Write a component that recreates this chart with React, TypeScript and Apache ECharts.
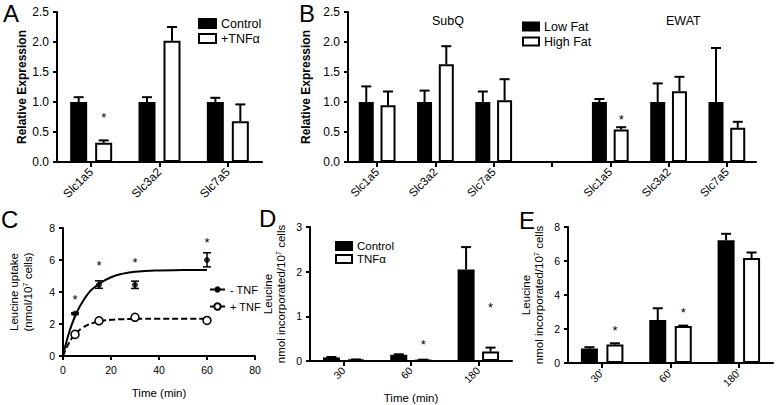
import React, { useEffect, useRef } from 'react';
import * as echarts from 'echarts';

// ---------- Panel A ----------
const catsA = ['Slc1a5', 'Slc3a2', 'Slc7a5'];
const controlA = [1.0, 1.0, 1.0];
const controlAErr = [1.08, 1.08, 1.07];
const tnfA = [0.32, 2.02, 0.68];
const tnfAErr = [0.36, 2.25, 0.96];
const starsA = [[0, 0.79]];

// ---------- Panel B ----------
const catsB = ['Slc1a5', 'Slc3a2', 'Slc7a5', '', 'Slc1a5', 'Slc3a2', 'Slc7a5'];
const lowFatB = [1.0, 1.0, 1.0, null, 1.0, 1.0, 1.0];
const lowFatBErr = [1.26, 1.19, 1.175, null, 1.05, 1.31, 1.9];
const highFatB = [0.945, 1.63, 1.03, null, 0.54, 1.18, 0.57];
const highFatBErr = [1.175, 1.93, 1.38, null, 0.58, 1.42, 0.67];
const starsB = [[4, 0.76]];

// ---------- Panel C ----------
const timeC = [5, 15, 30, 60];
const noTnfC = [2.65, 4.45, 4.45, 6.0];
const noTnfCLo = [2.6, 4.23, 4.22, 5.57];
const noTnfCHi = [2.7, 4.7, 4.68, 6.45];
const tnfC = [1.35, 2.2, 2.42, 2.22];
const tnfCLo = [1.3, 2.1, 2.38, 2.18];
const tnfCHi = [1.4, 2.3, 2.46, 2.26];
const fitTimeC = [0, 2, 4, 6, 8, 10, 12, 15, 20, 25, 30, 40, 50, 60];
const fitNoTnfC = [0, 1.2, 2.1, 2.8, 3.35, 3.8, 4.15, 4.5, 4.92, 5.15, 5.27, 5.35, 5.37, 5.38];
const fitTnfC = [0, 0.68, 1.17, 1.5, 1.75, 1.92, 2.04, 2.16, 2.26, 2.3, 2.32, 2.33, 2.33, 2.33];
const starsC = [[5, 3.75], [15, 5.85], [30, 6.05], [60, 7.3]];

// ---------- Panel D ----------
const catsD = ['30', '60', '180'];
const controlD = [0.08, 0.14, 2.05];
const controlDErr = [0.09, 0.15, 2.55];
const tnfD = [0.03, 0.02, 0.21];
const tnfDErr = [0.035, 0.03, 0.3];
const starsD = [[1, 0.43], [2, 1.27]];

// ---------- Panel E ----------
const catsE = ["30'", "60'", "180'"];
const controlE = [0.85, 2.53, 7.22];
const controlEErr = [0.93, 3.22, 7.6];
const tnfE = [1.09, 2.17, 6.17];
const tnfEErr = [1.16, 2.2, 6.5];
const starsE = [[0, 2.1], [1, 3.12]];

const FONT = '"Liberation Sans", Arial, Helvetica, sans-serif';

const blackBar = { color: '#000', borderColor: '#000', borderWidth: 2 };
const whiteBar = { color: '#fff', borderColor: '#000', borderWidth: 2 };

function baseAxis(gridIndex: number, fontSize: number) {
  return {
    gridIndex,
    axisLine: { show: true, onZero: false, lineStyle: { color: '#000', width: 2 } },
    axisTick: { show: true, length: 4, lineStyle: { color: '#000', width: 2 } },
    axisLabel: { color: '#000', fontFamily: FONT, fontSize, fontWeight: 'normal' },
    splitLine: { show: false },
  };
}

function catAxis(gridIndex: number, data: string[], fontSize: number, extra: any = {}) {
  const b: any = baseAxis(gridIndex, fontSize);
  return {
    ...b,
    type: 'category',
    data,
    axisTick: { ...b.axisTick, alignWithLabel: true, interval: 0, length: 5 },
    axisLabel: { ...b.axisLabel, rotate: 45, interval: 0, margin: 8 },
    ...extra,
  };
}

function valAxis(gridIndex: number, min: number, max: number, interval: number, fontSize: number, extra: any = {}) {
  const b: any = baseAxis(gridIndex, fontSize);
  return { ...b, type: 'value', min, max, interval, ...extra, axisLabel: { ...b.axisLabel, ...(extra.axisLabel || {}) } };
}

function barErr(ai: number, off: number, vals: (number | null)[], tops: (number | null)[]) {
  const data: number[][] = [];
  vals.forEach((v, i) => {
    if (v != null && tops[i] != null) data.push([i, v, tops[i] as number]);
  });
  return {
    type: 'custom',
    xAxisIndex: ai,
    yAxisIndex: ai,
    z: 3,
    data,
    renderItem: (_p: any, api: any) => {
      const b = api.coord([api.value(0), api.value(1)]);
      const t = api.coord([api.value(0), api.value(2)]);
      const x = b[0] + off;
      const st = { stroke: '#000', lineWidth: 2 };
      return {
        type: 'group',
        children: [
          { type: 'line', shape: { x1: x, y1: b[1], x2: x, y2: t[1] }, style: st },
          { type: 'line', shape: { x1: x - 5, y1: t[1], x2: x + 5, y2: t[1] }, style: st },
        ],
      };
    },
  };
}

function stars(ai: number, off: number, pts: number[][]) {
  return {
    type: 'custom',
    xAxisIndex: ai,
    yAxisIndex: ai,
    z: 4,
    data: pts,
    renderItem: (_p: any, api: any) => {
      const p = api.coord([api.value(0), api.value(1)]);
      return {
        type: 'text',
        x: p[0] + off,
        y: p[1] + 3,
        style: { text: '*', fontSize: 13, fontFamily: FONT, fill: '#000', align: 'center', verticalAlign: 'middle' },
      };
    },
  };
}

function pointErr(ai: number, xs: number[], lo: number[], hi: number[]) {
  return {
    type: 'custom',
    xAxisIndex: ai,
    yAxisIndex: ai,
    z: 3,
    data: xs.map((x, i) => [x, lo[i], hi[i]]),
    renderItem: (_p: any, api: any) => {
      const a = api.coord([api.value(0), api.value(1)]);
      const b = api.coord([api.value(0), api.value(2)]);
      const st = { stroke: '#000', lineWidth: 1.5 };
      return {
        type: 'group',
        children: [
          { type: 'line', shape: { x1: a[0], y1: a[1], x2: b[0], y2: b[1] }, style: st },
          { type: 'line', shape: { x1: a[0] - 4, y1: a[1], x2: a[0] + 4, y2: a[1] }, style: st },
          { type: 'line', shape: { x1: b[0] - 4, y1: b[1], x2: b[0] + 4, y2: b[1] }, style: st },
        ],
      };
    },
  };
}

const supRich = {
  sup: { fontSize: 7.5, fontFamily: FONT, fontWeight: 'normal', color: '#000', verticalAlign: 'top', lineHeight: 13 },
};

const nameStyle = (fontSize: number, lineHeight?: number) => ({
  fontFamily: FONT, fontSize, fontWeight: 'normal', color: '#000',
  ...(lineHeight ? { lineHeight, rich: supRich } : {}),
});

export default function App() {
  const ref = useRef<HTMLDivElement>(null);
  useEffect(() => {
    if (!ref.current) return;
    const chart = echarts.init(ref.current, undefined, { renderer: 'svg' });

    const fmt1 = (v: number) => v.toFixed(1);
    const bwA = 17, gA = 0.47, offA = (bwA * (1 + gA)) / 2;
    const bwB = 15, gB = 0.45, offB = (bwB * (1 + gB)) / 2;
    const bwD = 17, gD = 0.44, offD = (bwD * (1 + gD)) / 2;
    const bwE = 17, gE = 0.5, offE = (bwE * (1 + gE)) / 2;

    const letter = (t: string, x: number, y: number) => ({
      type: 'text', left: x, top: y,
      style: { text: t, fontSize: 24, fontFamily: FONT, fill: '#000' },
    });

    const option: any = {
      animation: false,
      backgroundColor: '#fff',
      textStyle: { fontFamily: FONT, fontWeight: 'normal' },
      grid: [
        { left: 57, top: 12, width: 205, height: 150 },
        { left: 348, top: 12, width: 408, height: 150 },
        { left: 63, top: 228, width: 192, height: 128 },
        { left: 310, top: 227, width: 202, height: 134 },
        { left: 568, top: 227, width: 205, height: 136 },
      ],
      xAxis: [
        catAxis(0, catsA, 12),
        catAxis(1, catsB, 11.5),
        valAxis(2, 0, 80, 20, 10.5, {
          name: 'Time (min)', nameLocation: 'middle', nameGap: 31,
          nameTextStyle: nameStyle(11.5),
        }),
        catAxis(3, catsD, 10.5, {
          name: 'Time (min)', nameLocation: 'middle', nameGap: 31,
          nameTextStyle: nameStyle(11.5),
        }),
        catAxis(4, catsE, 10.5),
      ],
      yAxis: [
        valAxis(0, 0, 2.5, 0.5, 12, {
          axisLabel: { formatter: fmt1 },
          name: 'Relative Expression', nameLocation: 'middle', nameRotate: 90, nameGap: 25,
          nameTextStyle: { ...nameStyle(12), fontWeight: 'bold' },
        }),
        valAxis(1, 0, 2.5, 0.5, 12, {
          axisLabel: { formatter: fmt1 },
          name: 'Relative Expression', nameLocation: 'middle', nameRotate: 90, nameGap: 24,
          nameTextStyle: { ...nameStyle(12), fontWeight: 'bold' },
        }),
        valAxis(2, 0, 8, 2, 10.5, {
          name: 'Leucine uptake\n(nmol/10{sup|7} cells)', nameLocation: 'middle', nameRotate: 90, nameGap: 28,
          nameTextStyle: nameStyle(11.5, 14),
        }),
        valAxis(3, 0, 3, 1, 10.5, {
          name: 'Leucine\nnmol incorporated/10{sup|7} cells', nameLocation: 'middle', nameRotate: 90, nameGap: 23,
          nameTextStyle: nameStyle(11.5, 13),
        }),
        valAxis(4, 0, 8, 2, 10.5, {
          name: 'Leucine\nnmol incorporated/10{sup|7} cells', nameLocation: 'middle', nameRotate: 90, nameGap: 23,
          nameTextStyle: nameStyle(11.5, 13),
        }),
      ],
      legend: [
        {
          left: 193, top: 12, orient: 'vertical', icon: 'rect', itemWidth: 17, itemHeight: 9, itemGap: 2,
          textStyle: { fontFamily: FONT, fontSize: 12.5, color: '#000' }, selectedMode: false,
          data: [
            { name: 'Control', itemStyle: blackBar },
            { name: '+TNFα', itemStyle: whiteBar },
          ],
        },
        {
          left: 517, top: 15, orient: 'vertical', icon: 'rect', itemWidth: 16, itemHeight: 8, itemGap: 2,
          textStyle: { fontFamily: FONT, fontSize: 12.5, color: '#000' }, selectedMode: false,
          data: [
            { name: 'Low Fat', itemStyle: blackBar },
            { name: 'High Fat', itemStyle: whiteBar },
          ],
        },
        {
          left: 204, top: 279, orient: 'vertical', itemWidth: 15, itemHeight: 8, itemGap: 6,
          lineStyle: { type: 'solid', width: 2, color: '#000' },
          textStyle: { fontFamily: FONT, fontSize: 11, color: '#000' }, selectedMode: false,
          data: ['- TNF', '+ TNF'],
        },
        {
          left: 330, top: 235, orient: 'vertical', icon: 'rect', itemWidth: 16, itemHeight: 8, itemGap: 1,
          textStyle: { fontFamily: FONT, fontSize: 11.5, color: '#000' }, selectedMode: false,
          data: [
            { name: 'Control', itemStyle: blackBar },
            { name: 'TNFα', itemStyle: whiteBar },
          ],
        },
      ],
      graphic: [
        letter('A', 3, 1),
        letter('B', 299, 1),
        letter('C', 1, 207),
        letter('D', 259, 206),
        letter('E', 519, 208),
        { type: 'text', left: 432, top: 14, style: { text: 'SubQ', fontSize: 12.5, fontFamily: FONT, fill: '#000' } },
        { type: 'text', left: 666, top: 14, style: { text: 'EWAT', fontSize: 12.5, fontFamily: FONT, fill: '#000' } },
      ],
      series: [
        // A
        { type: 'bar', name: 'Control', xAxisIndex: 0, yAxisIndex: 0, data: controlA, barWidth: bwA, barGap: `${gA * 100}%`, itemStyle: blackBar },
        { type: 'bar', name: '+TNFα', xAxisIndex: 0, yAxisIndex: 0, data: tnfA, barWidth: bwA, barGap: `${gA * 100}%`, itemStyle: whiteBar },
        barErr(0, -offA, controlA, controlAErr),
        barErr(0, offA, tnfA, tnfAErr),
        stars(0, offA, starsA),
        // B
        { type: 'bar', name: 'Low Fat', xAxisIndex: 1, yAxisIndex: 1, data: lowFatB, barWidth: bwB, barGap: `${gB * 100}%`, itemStyle: blackBar },
        { type: 'bar', name: 'High Fat', xAxisIndex: 1, yAxisIndex: 1, data: highFatB, barWidth: bwB, barGap: `${gB * 100}%`, itemStyle: whiteBar },
        barErr(1, -offB, lowFatB, lowFatBErr),
        barErr(1, offB, highFatB, highFatBErr),
        stars(1, offB, starsB),
        // C
        {
          type: 'line', name: '- TNF', xAxisIndex: 2, yAxisIndex: 2, smooth: true, showSymbol: false,
          symbol: 'circle', symbolSize: 6, z: 2,
          data: fitTimeC.map((t, i) => [t, fitNoTnfC[i]]),
          lineStyle: { color: '#000', width: 2 }, itemStyle: { color: '#000' },
        },
        {
          type: 'line', name: '+ TNF', xAxisIndex: 2, yAxisIndex: 2, smooth: true, showSymbol: false,
          symbol: 'emptyCircle', symbolSize: 6, z: 2,
          data: fitTimeC.map((t, i) => [t, fitTnfC[i]]),
          lineStyle: { color: '#000', width: 2, type: [6, 3] }, itemStyle: { color: '#000' },
        },
        pointErr(2, timeC, noTnfCLo, noTnfCHi),
        pointErr(2, timeC, tnfCLo, tnfCHi),
        {
          type: 'scatter', name: 'noTnfPts', xAxisIndex: 2, yAxisIndex: 2, symbol: 'circle', symbolSize: 6, z: 5,
          data: timeC.map((t, i) => [t, noTnfC[i]]), itemStyle: { color: '#000' },
        },
        {
          type: 'scatter', name: 'tnfPts', xAxisIndex: 2, yAxisIndex: 2, symbol: 'circle', symbolSize: 8, z: 5,
          data: timeC.map((t, i) => [t, tnfC[i]]), itemStyle: { color: '#ffffff', opacity: 1, borderColor: '#000', borderWidth: 1.5 },
        },
        stars(2, 0, starsC),
        // D
        { type: 'bar', name: 'Control', xAxisIndex: 3, yAxisIndex: 3, data: controlD, barWidth: bwD, barGap: `${gD * 100}%`, itemStyle: blackBar },
        { type: 'bar', name: 'TNFα', xAxisIndex: 3, yAxisIndex: 3, data: tnfD, barWidth: bwD, barGap: `${gD * 100}%`, itemStyle: whiteBar },
        barErr(3, -offD, controlD, controlDErr),
        barErr(3, offD, tnfD, tnfDErr),
        stars(3, offD, starsD),
        // E
        { type: 'bar', name: 'ControlE', xAxisIndex: 4, yAxisIndex: 4, data: controlE, barWidth: bwE, barGap: `${gE * 100}%`, itemStyle: blackBar },
        { type: 'bar', name: 'TNFαE', xAxisIndex: 4, yAxisIndex: 4, data: tnfE, barWidth: bwE, barGap: `${gE * 100}%`, itemStyle: whiteBar },
        barErr(4, -offE, controlE, controlEErr),
        barErr(4, offE, tnfE, tnfEErr),
        stars(4, offE, starsE),
      ],
    };
    chart.setOption(option);
    return () => chart.dispose();
  }, []);

  return (
    <div
      ref={ref}
      style={{ position: 'fixed', left: 0, top: 0, width: 777, height: 405, background: '#fff' }}
    />
  );
}
